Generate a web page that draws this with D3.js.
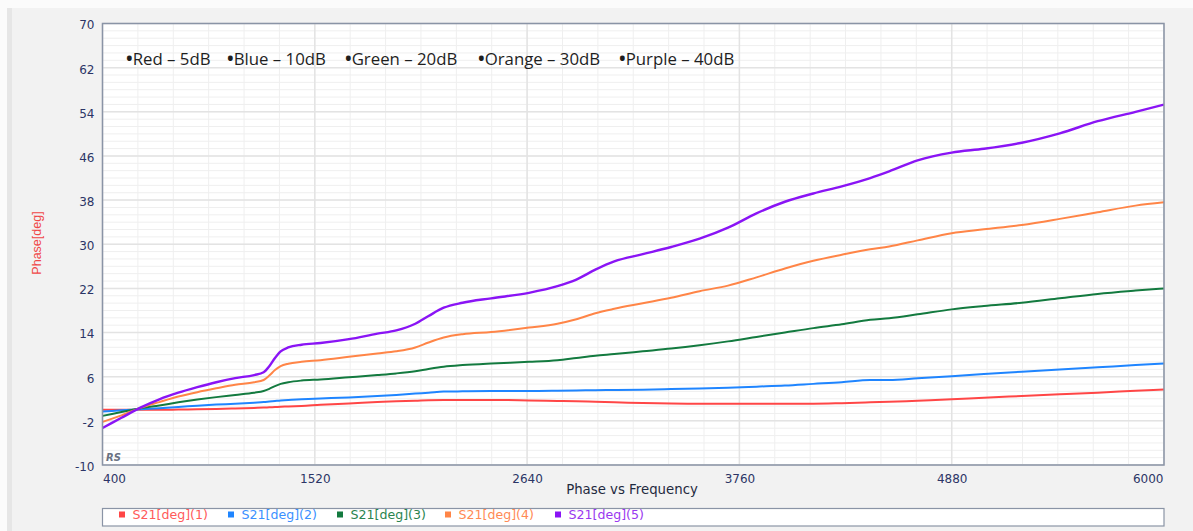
<!DOCTYPE html>
<html>
<head>
<meta charset="utf-8">
<script src="https://cdn.jsdelivr.net/npm/d3@7"></script>
<style>
  html, body { margin: 0; padding: 0; background: #fbfbfb; }
  svg { display: block; }
</style>
</head>
<body>
<svg id="chart" width="1193" height="531"></svg>
<script>
// ---------------- data ----------------
const frequencies = [400, 500, 600, 700, 800, 900, 1000, 1100, 1200, 1250, 1280, 1310, 1340, 1380, 1450, 1550, 1700, 1850, 1950, 2050, 2120, 2200, 2300, 2450, 2650, 2800, 2900, 3000, 3100, 3250, 3400, 3550, 3700, 3850, 4000, 4150, 4300, 4450, 4550, 4700, 4880, 5050, 5250, 5450, 5650, 5850, 6000];

const redValues    = [0.0, 0.0, 0.0, 0.0, 0.05, 0.1, 0.15, 0.25, 0.35, 0.4, 0.45, 0.5, 0.55, 0.6, 0.7, 0.9, 1.15, 1.4, 1.55, 1.65, 1.75, 1.8, 1.8, 1.8, 1.7, 1.6, 1.55, 1.45, 1.35, 1.25, 1.15, 1.1, 1.1, 1.1, 1.1, 1.1, 1.2, 1.35, 1.45, 1.65, 1.9, 2.2, 2.5, 2.8, 3.1, 3.45, 3.7];
const blueValues   = [-0.3, -0.1, 0.1, 0.3, 0.5, 0.75, 0.95, 1.1, 1.3, 1.4, 1.5, 1.6, 1.7, 1.8, 1.9, 2.05, 2.25, 2.5, 2.7, 2.95, 3.1, 3.3, 3.35, 3.4, 3.4, 3.45, 3.5, 3.55, 3.6, 3.65, 3.75, 3.85, 4.0, 4.2, 4.4, 4.7, 5.0, 5.4, 5.4, 5.7, 6.1, 6.5, 6.9, 7.3, 7.7, 8.1, 8.4];
const greenValues  = [-1.1, -0.4, 0.3, 0.8, 1.35, 1.85, 2.3, 2.7, 3.1, 3.4, 3.8, 4.3, 4.7, 5.0, 5.3, 5.5, 5.9, 6.3, 6.6, 7.0, 7.4, 7.8, 8.1, 8.4, 8.7, 9.0, 9.4, 9.8, 10.1, 10.6, 11.1, 11.7, 12.4, 13.2, 14.0, 14.8, 15.5, 16.3, 16.6, 17.3, 18.2, 18.8, 19.4, 20.2, 21.0, 21.6, 22.0];
const orangeValues = [-2.2, -1.0, 0.35, 1.4, 2.4, 3.2, 3.9, 4.55, 5.0, 5.4, 6.2, 7.2, 7.9, 8.35, 8.7, 9.0, 9.6, 10.2, 10.6, 11.3, 12.2, 13.1, 13.7, 14.1, 14.9, 15.6, 16.4, 17.5, 18.3, 19.3, 20.3, 21.5, 22.5, 24.0, 25.6, 27.0, 28.1, 29.1, 29.6, 30.7, 32.0, 32.7, 33.5, 34.6, 35.8, 37.0, 37.6];
const purpleValues = [-3.3, -1.45, 0.4, 1.9, 3.1, 4.1, 5.0, 5.75, 6.3, 6.8, 7.9, 9.4, 10.6, 11.3, 11.8, 12.1, 12.8, 13.8, 14.4, 15.6, 17.0, 18.5, 19.4, 20.2, 21.2, 22.4, 23.6, 25.4, 26.9, 28.2, 29.5, 31.0, 33.0, 35.6, 37.7, 39.2, 40.5, 42.0, 43.2, 45.2, 46.6, 47.3, 48.4, 50.1, 52.3, 54.0, 55.3];

const seriesNames  = ["S21[deg](1)", "S21[deg](2)", "S21[deg](3)", "S21[deg](4)", "S21[deg](5)"];
const seriesColors = ["#ff4646", "#1f85ff", "#137a3f", "#ff8547", "#8a14f5"];
const legendTextColors = ["#ff5a5a", "#3b90ff", "#2a8450", "#ff8a55", "#9a38f0"];
const noteLabels = ["Red – 5dB", "Blue – 10dB", "Green – 20dB", "Orange – 30dB", "Purple – 40dB"];

const xTicks = [400, 1520, 2640, 3760, 4880, 6000];
const yTicks = [-10, -2, 6, 14, 22, 30, 38, 46, 54, 62, 70];
const xTitle = "Phase vs Frequency";
const yTitle = "Phase[deg]";

// ---------------- layout ----------------
const svg = d3.select("#chart");
const W = 1193, H = 531;
const plot = { left: 102.5, right: 1164, top: 23.5, bottom: 465 };

svg.append("rect").attr("x", 7).attr("y", 8).attr("width", W - 7).attr("height", H - 8).attr("fill", "#e6e6e6");
svg.append("rect").attr("x", 12).attr("y", 8).attr("width", W - 12).attr("height", H - 8).attr("fill", "#f2f2f2");

const x = d3.scaleLinear().domain([400, 6000]).range([plot.left, plot.right]);
const y = d3.scaleLinear().domain([-10, 70]).range([plot.bottom, plot.top]);

svg.append("rect")
  .attr("x", plot.left).attr("y", plot.top)
  .attr("width", plot.right - plot.left).attr("height", plot.bottom - plot.top)
  .attr("fill", "#ffffff");

// grid: 6 minor divisions per major
const xMinor = d3.range(0, 31).map(i => 400 + i * (1120 / 6));
const yMinor = d3.range(0, 61).map(i => -10 + i * (8 / 6));
const grid = svg.append("g");
grid.selectAll("line.xm").data(xMinor).join("line")
  .attr("x1", d => x(d)).attr("x2", d => x(d)).attr("y1", plot.top).attr("y2", plot.bottom)
  .attr("stroke", "#efefef").attr("stroke-width", 1);
grid.selectAll("line.ym").data(yMinor).join("line")
  .attr("x1", plot.left).attr("x2", plot.right).attr("y1", d => y(d)).attr("y2", d => y(d))
  .attr("stroke", "#efefef").attr("stroke-width", 1);
grid.selectAll("line.xM").data(xTicks).join("line")
  .attr("x1", d => x(d)).attr("x2", d => x(d)).attr("y1", plot.top).attr("y2", plot.bottom)
  .attr("stroke", "#e3e3e3").attr("stroke-width", 1.5);
grid.selectAll("line.yM").data(yTicks).join("line")
  .attr("x1", plot.left).attr("x2", plot.right).attr("y1", d => y(d)).attr("y2", d => y(d))
  .attr("stroke", "#e3e3e3").attr("stroke-width", 1.5);

// annotation text at top
const noteX = [125, 226, 344, 477, 618];
const notes = svg.append("g").selectAll("text").data(noteLabels).join("text")
  .attr("x", (d, i) => noteX[i]).attr("y", 65)
  .attr("font-family", "'Open Sans', sans-serif")
  .attr("fill", "#1e1e1e");
notes.append("tspan").attr("font-size", 23).attr("dy", 1.5).text("•");
notes.append("tspan").attr("font-size", 16.8).attr("dx", -1).attr("dy", -1.5).text(d => d);

// series lines
const allSeries = [redValues, blueValues, greenValues, orangeValues, purpleValues];
const line = d3.line().x(d => x(d[0])).y(d => y(d[1])).curve(d3.curveMonotoneX);
const clipId = "plotclip";
svg.append("clipPath").attr("id", clipId).append("rect")
  .attr("x", plot.left).attr("y", plot.top)
  .attr("width", plot.right - plot.left).attr("height", plot.bottom - plot.top);
svg.append("g").attr("clip-path", `url(#${clipId})`)
  .selectAll("path").data(allSeries).join("path")
  .attr("d", vals => line(frequencies.map((f, i) => [f, vals[i]])))
  .attr("fill", "none")
  .attr("stroke", (d, i) => seriesColors[i])
  .attr("stroke-width", (d, i) => i === 4 ? 2.4 : 2)
  .attr("stroke-linejoin", "round");

// RS watermark
svg.append("text").attr("x", 106).attr("y", 461)
  .attr("font-family", "'DejaVu Sans', sans-serif").attr("font-size", 10)
  .attr("font-style", "italic").attr("font-weight", "bold")
  .attr("fill", "#6b7282").text("RS");

// frame
svg.append("rect")
  .attr("x", plot.left).attr("y", plot.top)
  .attr("width", plot.right - plot.left).attr("height", plot.bottom - plot.top)
  .attr("fill", "none").attr("stroke", "#8a94a6").attr("stroke-width", 1.5);

// axes via d3 axis generators (tick lines hidden)
const tickColor = "#2c3566";
const yAxis = svg.append("g").attr("transform", `translate(${plot.left - 8},0)`)
  .call(d3.axisLeft(y).tickValues(yTicks).tickFormat(d => String(d)).tickSize(0).tickPadding(0));
yAxis.select(".domain").remove();
yAxis.selectAll("text")
  .attr("font-family", "'DejaVu Sans', sans-serif").attr("font-size", 12)
  .attr("fill", tickColor).attr("dy", "0.45em");

const xAxis = svg.append("g").attr("transform", `translate(0,${plot.bottom})`)
  .call(d3.axisBottom(x).tickValues(xTicks).tickFormat(d => String(d)).tickSize(0).tickPadding(9));
xAxis.select(".domain").remove();
xAxis.selectAll("text")
  .attr("font-family", "'DejaVu Sans', sans-serif").attr("font-size", 12)
  .attr("fill", tickColor)
  .attr("text-anchor", d => d === 400 ? "start" : (d === 6000 ? "end" : "middle"))
  .attr("dx", d => d === 400 ? 0 : (d === 6000 ? -1 : 0));

// axis titles
svg.append("text").attr("x", 632).attr("y", 494).attr("text-anchor", "middle")
  .attr("font-family", "'DejaVu Sans', sans-serif").attr("font-size", 13.3)
  .attr("fill", "#1f2a40").text(xTitle);
svg.append("text").attr("transform", "translate(41,243) rotate(-90)").attr("text-anchor", "middle")
  .attr("font-family", "'Liberation Sans', Arial, sans-serif").attr("font-size", 12.5)
  .attr("fill", "#f04848").text(yTitle);

// bottom legend
svg.append("rect").attr("x", plot.left).attr("y", 508.5)
  .attr("width", plot.right - plot.left).attr("height", 17.5)
  .attr("fill", "#ffffff").attr("stroke", "#8a94a6").attr("stroke-width", 1.2);
const legendX = [119, 228, 337, 445, 555];
const lg = svg.append("g").selectAll("g").data(seriesNames).join("g")
  .attr("transform", (d, i) => `translate(${legendX[i]},514.5)`);
lg.append("rect").attr("x", 0).attr("y", -3).attr("width", 6).attr("height", 6)
  .attr("fill", (d, i) => seriesColors[i]);
lg.append("text").attr("x", 13.5).attr("y", 0).attr("dy", "0.36em")
  .attr("font-family", "'DejaVu Sans', sans-serif").attr("font-size", 12.6)
  .attr("fill", (d, i) => legendTextColors[i]).text(d => d);
</script>
</body>
</html>
